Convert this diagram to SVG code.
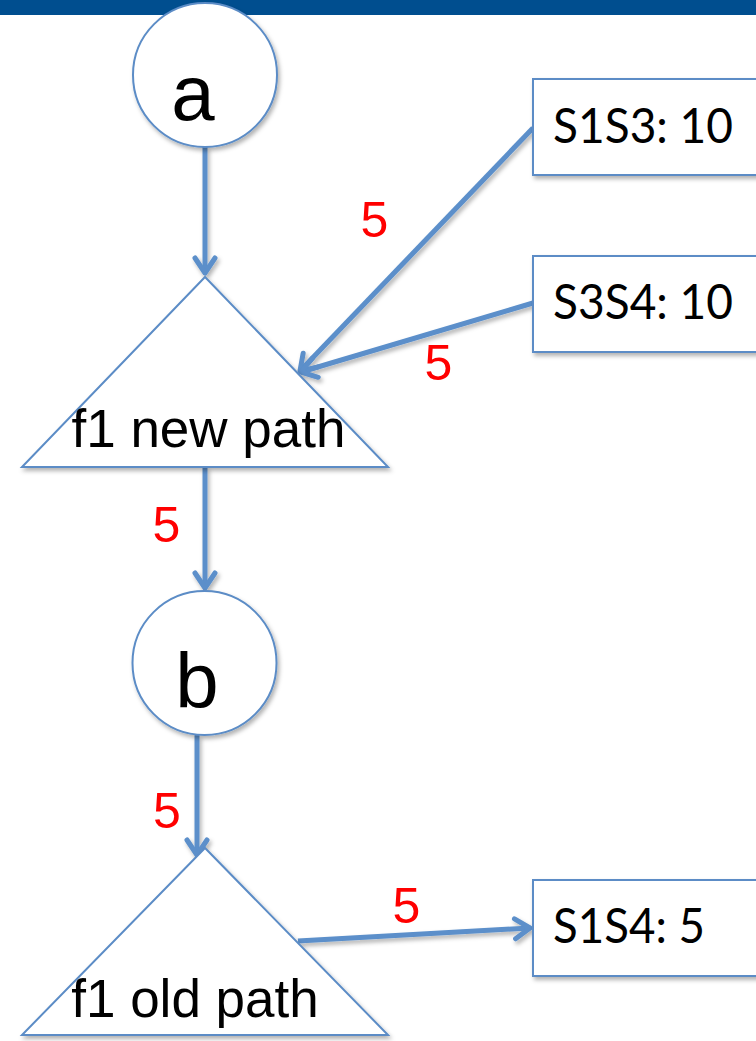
<svg xmlns="http://www.w3.org/2000/svg" width="756" height="1041" viewBox="0 0 756 1041">
  <defs>
    <filter id="shadow" x="-10%" y="-10%" width="130%" height="130%">
      <feDropShadow dx="2" dy="3" stdDeviation="2" flood-color="#000" flood-opacity="0.3"/>
    </filter>
    <marker id="chevron" markerUnits="userSpaceOnUse" viewBox="-20 -14 24 28" refX="0" refY="0" markerWidth="24" markerHeight="28" orient="auto" overflow="visible">
      <path d="M-15,-10 L0,0 L-15,10" fill="none" stroke="#5b8fca" stroke-width="5" stroke-linecap="round" stroke-linejoin="round"/>
    </marker>
  </defs>
  <style>
    .shape { fill: #ffffff; stroke: #5b8cc6; stroke-width: 2; }
    .node-label { font-family: "Liberation Sans", Arial, sans-serif; fill: #000000; text-anchor: middle; }
    .box-label { font-family: Lato, "Open Sans", sans-serif; font-size: 48px; fill: #000000; }
    .edge { fill: none; stroke: #5b8fca; stroke-width: 5; marker-end: url(#chevron); }
    .weight { font-family: "Liberation Sans", Arial, sans-serif; font-size: 50px; fill: #ff0000; text-anchor: middle; }
  </style>

  <rect x="0" y="0" width="756" height="15" fill="#004e8f"/>

  <g id="connectors" filter="url(#shadow)">
    <line class="edge" x1="205" y1="147" x2="205" y2="273"/>
    <line class="edge" x1="533" y1="128" x2="300" y2="371"/>
    <line class="edge" x1="533" y1="303" x2="301" y2="372"/>
    <line class="edge" x1="205" y1="467" x2="205" y2="588"/>
    <line class="edge" x1="197" y1="735" x2="197" y2="855"/>
    <line class="edge" x1="298" y1="941" x2="530" y2="928"/>
  </g>

  <g id="node-a">
    <circle class="shape" cx="205" cy="75" r="72" filter="url(#shadow)"/>
    <text class="node-label" x="193" y="120" font-size="78">a</text>
  </g>

  <g id="node-f1-new-path">
    <polygon class="shape" points="205,277 22,467 388,467" filter="url(#shadow)"/>
    <text class="node-label" x="208.5" y="447" font-size="53">f1 new path</text>
  </g>

  <g id="node-b">
    <circle class="shape" cx="204.5" cy="663" r="72" filter="url(#shadow)"/>
    <text class="node-label" x="197" y="708" font-size="78">b</text>
  </g>

  <g id="node-f1-old-path">
    <polygon class="shape" points="205,848 22,1035 388,1035" filter="url(#shadow)"/>
    <text class="node-label" x="195" y="1017" font-size="53">f1 old path</text>
  </g>

  <g id="node-s1s3">
    <rect class="shape" x="533" y="79" width="240" height="96" filter="url(#shadow)"/>
    <text class="box-label" x="553" y="143" textLength="180" lengthAdjust="spacingAndGlyphs">S1S3: 10</text>
  </g>

  <g id="node-s3s4">
    <rect class="shape" x="533" y="256" width="240" height="96" filter="url(#shadow)"/>
    <text class="box-label" x="553" y="319" textLength="180" lengthAdjust="spacingAndGlyphs">S3S4: 10</text>
  </g>

  <g id="node-s1s4">
    <rect class="shape" x="533" y="880" width="240" height="96" filter="url(#shadow)"/>
    <text class="box-label" x="553" y="943" textLength="152" lengthAdjust="spacingAndGlyphs">S1S4: 5</text>
  </g>

  <g id="weights">
    <text class="weight" x="374.5" y="237">5</text>
    <text class="weight" x="438.5" y="380">5</text>
    <text class="weight" x="166.5" y="542">5</text>
    <text class="weight" x="167" y="828">5</text>
    <text class="weight" x="406.5" y="923">5</text>
  </g>
</svg>
